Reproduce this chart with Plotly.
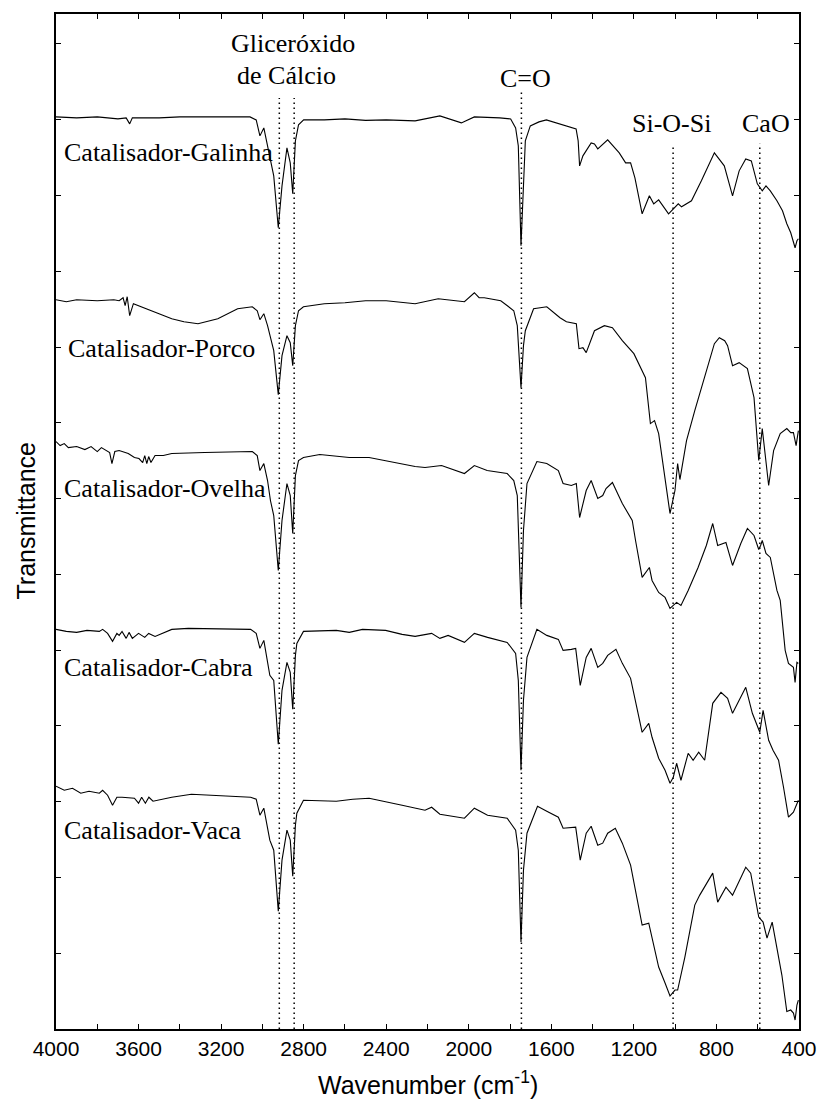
import plotly.graph_objects as go

# ---------------- data (wavenumber cm-1, transmittance a.u. with offsets) -------------
galinha_wn = [4000, 3900, 3800, 3700, 3660, 3643, 3630, 3500, 3400, 3200, 3060, 3030, 3012, 2993,
              2975, 2960, 2945, 2923, 2905, 2881, 2865, 2853, 2840, 2825, 2800, 2700, 2600, 2500,
              2400, 2260, 2140, 2036, 1973, 1850, 1797, 1773, 1760, 1747, 1735, 1726, 1702, 1660,
              1624, 1576, 1480, 1470, 1463, 1447, 1407, 1391, 1375, 1327, 1271, 1240, 1216, 1195,
              1160, 1125, 1104, 1080, 1032, 985, 969, 921, 873, 810, 762, 722, 690, 658, 631, 602,
              578, 560, 539, 507, 480, 459, 440, 419, 410, 403]
galinha_t = [91.3, 91.2, 91.3, 91.1, 91.2, 90.6, 91.2, 91.2, 91.3, 91.3, 91.3, 91.0, 89.4, 90.2,
             88.4, 87.1, 85.4, 80.2, 84.4, 88.2, 86.7, 83.6, 88.9, 90.5, 91.0, 91.0, 91.1, 90.95,
             91.0, 90.9, 91.4, 90.7, 91.3, 91.2, 91.1, 90.2, 88.4, 78.4, 84.9, 88.9, 90.4, 90.8,
             91.0, 90.7, 90.1, 88.9, 86.4, 87.4, 88.7, 88.6, 88.1, 89.0, 87.7, 86.7, 86.7, 85.2,
             81.6, 83.4, 82.6, 83.0, 81.6, 82.6, 82.3, 82.9, 84.9, 87.7, 86.4, 83.4, 85.9, 87.1,
             86.9, 84.6, 83.9, 84.4, 83.9, 82.9, 81.9, 80.6, 79.7, 78.2, 78.9, 79.1]

porco_wn = [4000, 3950, 3900, 3800, 3720, 3694, 3675, 3665, 3655, 3643, 3625, 3600, 3535, 3480,
            3439, 3380, 3312, 3216, 3120, 3049, 3025, 3012, 2993, 2975, 2961, 2945, 2923, 2905,
            2881, 2865, 2853, 2840, 2825, 2801, 2700, 2600, 2500, 2400, 2260, 2148, 2021, 1985,
            1973, 1950, 1925, 1845, 1782, 1765, 1747, 1735, 1726, 1686, 1622, 1558, 1527, 1479,
            1466, 1447, 1431, 1391, 1343, 1304, 1256, 1200, 1168, 1144, 1120, 1100, 1080, 1049,
            1025, 1001, 988, 977, 945, 905, 857, 810, 786, 760, 746, 722, 690, 650, 618, 595,
            578, 562, 547, 523, 491, 459, 440, 427, 414, 403]
porco_t = [73.0, 72.8, 73.0, 72.9, 73.0, 72.9, 73.2, 72.4, 73.3, 71.4, 72.6, 72.4, 71.9, 71.4,
           71.1, 70.8, 70.6, 71.1, 72.1, 72.3, 71.9, 71.0, 71.6, 70.4, 69.2, 67.9, 63.5, 67.4,
           69.4, 68.7, 66.4, 70.4, 71.9, 72.3, 72.6, 72.7, 72.9, 72.9, 72.6, 73.1, 72.8, 73.5,
           73.7, 73.2, 73.2, 72.9, 71.9, 70.4, 64.2, 68.4, 69.9, 72.1, 72.3, 71.2, 70.8, 70.6,
           68.1, 68.2, 67.7, 69.9, 70.4, 70.2, 68.9, 67.6, 66.2, 65.2, 60.6, 60.9, 59.6, 55.2,
           51.6, 53.9, 56.6, 55.0, 58.9, 61.9, 65.2, 68.6, 69.2, 68.9, 68.4, 66.4, 66.7, 66.1,
           63.2, 56.9, 60.1, 56.9, 54.4, 57.9, 59.6, 60.1, 59.7, 59.7, 58.4, 59.9]

ovelha_wn = [4000, 3980, 3960, 3940, 3900, 3860, 3830, 3800, 3780, 3758, 3740, 3729, 3715, 3694,
             3650, 3620, 3598, 3580, 3570, 3560, 3551, 3540, 3520, 3480, 3439, 3280, 3120, 3049,
             3025, 3012, 2993, 2975, 2961, 2945, 2923, 2905, 2881, 2865, 2853, 2840, 2825, 2801,
             2722, 2579, 2483, 2323, 2260, 2212, 2132, 2021, 1973, 1911, 1814, 1782, 1765, 1747,
             1735, 1718, 1670, 1622, 1566, 1543, 1503, 1479, 1463, 1431, 1407, 1375, 1351, 1335,
             1304, 1256, 1208, 1192, 1160, 1125, 1112, 1080, 1049, 1025, 993, 972, 937, 889, 849,
             818, 794, 754, 722, 682, 650, 618, 595, 586, 578, 560, 539, 507, 491, 467, 451, 427,
             419, 410, 403]
ovelha_t = [58.8, 58.4, 58.6, 58.2, 58.3, 58.0, 58.3, 57.8, 58.2, 57.9, 57.7, 56.6, 57.8, 57.9,
            57.6, 57.2, 57.1, 56.7, 57.4, 56.6, 57.3, 56.7, 57.4, 57.4, 57.6, 57.7, 57.8, 57.8,
            57.4, 55.9, 56.6, 54.9, 52.9, 51.4, 45.9, 50.9, 54.6, 53.4, 49.6, 55.4, 56.9, 57.2,
            57.5, 57.2, 57.2, 56.6, 56.3, 56.2, 56.4, 55.6, 56.4, 55.9, 55.6, 54.9, 53.4, 42.2,
            49.9, 54.6, 56.8, 56.6, 55.9, 54.6, 54.4, 54.6, 51.2, 53.9, 54.9, 53.1, 53.4, 54.1,
            54.7, 52.6, 50.9, 48.9, 45.2, 46.2, 44.9, 43.7, 43.2, 42.1, 42.7, 42.4, 43.9, 46.2,
            48.4, 50.6, 48.4, 48.7, 46.4, 48.6, 50.1, 49.4, 48.0, 48.4, 48.9, 47.6, 47.2, 43.9,
            42.9, 37.9, 36.6, 36.2, 34.7, 36.7, 36.6]

cabra_wn = [4000, 3950, 3900, 3850, 3790, 3774, 3750, 3726, 3705, 3694, 3680, 3660, 3646, 3630,
            3600, 3570, 3551, 3520, 3439, 3359, 3057, 3030, 3012, 2993, 2964, 2945, 2923, 2905,
            2881, 2865, 2853, 2840, 2833, 2801, 2642, 2579, 2515, 2403, 2323, 2260, 2180, 2140,
            2100, 2021, 1973, 1909, 1814, 1773, 1760, 1747, 1735, 1718, 1670, 1622, 1566, 1543,
            1503, 1482, 1460, 1431, 1407, 1375, 1351, 1327, 1287, 1256, 1216, 1160, 1128, 1112,
            1080, 1049, 1025, 1009, 993, 972, 937, 913, 886, 857, 818, 778, 746, 722, 690, 658,
            626, 602, 590, 574, 547, 526, 499, 475, 451, 427, 415, 403]
cabra_t = [40.0, 39.8, 39.7, 39.9, 39.8, 40.0, 39.6, 38.8, 39.6, 39.4, 39.8, 39.1, 39.7, 39.1,
           39.6, 39.2, 39.6, 39.3, 40.0, 40.1, 40.0, 39.6, 38.1, 38.9, 35.4, 34.9, 28.5, 33.9,
           36.7, 35.7, 32.0, 37.4, 38.6, 39.8, 39.9, 39.7, 40.0, 39.9, 39.5, 39.3, 39.6, 39.1,
           39.4, 38.7, 39.6, 39.2, 38.7, 37.6, 34.9, 25.9, 32.9, 37.2, 40.0, 39.4, 39.0, 37.9,
           38.0, 38.1, 34.4, 37.2, 38.1, 36.2, 36.6, 37.4, 38.0, 36.6, 35.1, 29.7, 30.6, 29.2,
           27.1, 25.9, 24.6, 25.2, 26.6, 24.9, 27.6, 26.9, 27.7, 26.9, 32.6, 33.7, 33.1, 31.6,
           32.9, 34.2, 31.6, 30.2, 29.7, 31.9, 28.9, 27.9, 26.9, 24.2, 21.2, 21.7, 22.4, 22.9]

vaca_wn = [4000, 3960, 3920, 3880, 3840, 3790, 3774, 3750, 3726, 3705, 3680, 3620, 3600, 3585,
           3567, 3550, 3530, 3439, 3344, 3057, 3030, 3012, 2993, 2964, 2945, 2923, 2905, 2881,
           2865, 2853, 2840, 2833, 2801, 2642, 2562, 2483, 2323, 2212, 2180, 2140, 2021, 1973,
           1909, 1814, 1773, 1760, 1747, 1735, 1718, 1667, 1622, 1566, 1543, 1503, 1482, 1460,
           1431, 1407, 1375, 1351, 1327, 1290, 1256, 1216, 1160, 1128, 1080, 1049, 1025, 1001,
           988, 953, 905, 881, 818, 794, 754, 722, 658, 634, 595, 574, 555, 530, 499, 483, 459,
           440, 427, 419, 410, 403]
vaca_t = [24.3, 23.9, 24.1, 23.6, 23.8, 23.6, 23.9, 23.4, 22.4, 23.2, 23.2, 23.1, 22.6, 23.2,
          22.6, 23.2, 22.8, 23.2, 23.5, 23.2, 23.0, 21.4, 22.1, 18.9, 17.9, 11.8, 16.9, 19.9,
          18.9, 15.3, 20.4, 21.6, 22.9, 22.8, 23.0, 23.1, 22.4, 21.9, 22.2, 21.5, 21.1, 22.1,
          21.4, 21.1, 19.9, 17.9, 8.7, 15.9, 19.6, 22.3, 21.8, 21.2, 20.1, 20.2, 20.2, 16.9,
          19.6, 20.3, 18.4, 18.6, 19.6, 20.1, 18.6, 16.4, 10.4, 10.6, 6.2, 4.6, 3.3, 3.9,
          3.9, 7.2, 12.4, 13.4, 15.6, 12.7, 14.2, 13.4, 16.2, 15.6, 11.2, 10.7, 9.1, 10.7, 7.2,
          5.4, 1.75, 1.9, 1.6, 0.9, 2.4, 2.9]

sample_names = ["Catalisador-Galinha", "Catalisador-Porco", "Catalisador-Ovelha",
                "Catalisador-Cabra", "Catalisador-Vaca"]
label_x = [3973, 3952, 3973, 3973, 3973]
label_y = [87.7, 68.1, 54.1, 36.2, 19.9]

band_names = ["Gliceróxido", "de Cálcio", "C=O", "Si-O-Si", "CaO"]
band_label_x = [2853, 2881, 1726, 1017, 560]
band_label_y = [98.6, 95.4, 95.1, 90.6, 90.6]

marker_wn = [2918, 2846, 1745, 1010, 590]
marker_top = [93.2, 93.2, 93.9, 88.4, 88.6]

Y_MAX = 101.6
Y_DTICK = 7.585

# ---------------- figure -------------
fig = go.Figure()

series = [(galinha_wn, galinha_t), (porco_wn, porco_t), (ovelha_wn, ovelha_t),
          (cabra_wn, cabra_t), (vaca_wn, vaca_t)]
for (wn, t), name in zip(series, sample_names):
    fig.add_trace(go.Scatter(x=wn, y=t, mode="lines", name=name,
                             line=dict(color="black", width=1.1), showlegend=False))

for wn, top in zip(marker_wn, marker_top):
    fig.add_trace(go.Scatter(x=[wn, wn], y=[0, top], mode="lines", showlegend=False,
                             line=dict(color="black", width=1.5, dash="1.5px,3.5px")))

serif = "Liberation Serif, Times New Roman, serif"
sans = "Liberation Sans, Arial, sans-serif"

for name, x, y in zip(sample_names, label_x, label_y):
    fig.add_annotation(x=x, y=y, text=name, showarrow=False, xanchor="left", yanchor="middle",
                       font=dict(family=serif, size=26, color="black"))

for name, x, y in zip(band_names, band_label_x, band_label_y):
    fig.add_annotation(x=x, y=y, text=name, showarrow=False, xanchor="center", yanchor="middle",
                       font=dict(family=serif, size=26, color="black"))

fig.add_annotation(x=0.5, y=0, xref="paper", yref="paper", yshift=-54, text="Wavenumber (cm<sup>-1</sup>)",
                   showarrow=False, xanchor="center", yanchor="middle",
                   font=dict(family=sans, size=25, color="black"))
fig.add_annotation(x=0, y=0.5, xref="paper", yref="paper", xshift=-31, text="Transmittance",
                   textangle=-90, showarrow=False, xanchor="center", yanchor="middle",
                   font=dict(family=sans, size=25, color="black"))

fig.update_xaxes(range=[4000, 400], tick0=400, dtick=400,
                 ticks="inside", ticklen=5, tickwidth=1, tickcolor="black",
                 minor=dict(dtick=200, ticks="inside", ticklen=5, tickwidth=1, tickcolor="black"),
                 showline=True, linecolor="black", linewidth=1.6, mirror="ticks",
                 showgrid=False, zeroline=False,
                 tickfont=dict(family=sans, size=21, color="black"))
fig.update_yaxes(range=[0, Y_MAX], tick0=0, dtick=Y_DTICK, showticklabels=False,
                 ticks="inside", ticklen=5, tickwidth=1, tickcolor="black",
                 showline=True, linecolor="black", linewidth=1.6, mirror="ticks",
                 showgrid=False, zeroline=False)

fig.update_layout(width=829, height=1111, margin=dict(l=56, r=20, t=13, b=82),
                  paper_bgcolor="white", plot_bgcolor="white")

fig.write_html("out.html")
